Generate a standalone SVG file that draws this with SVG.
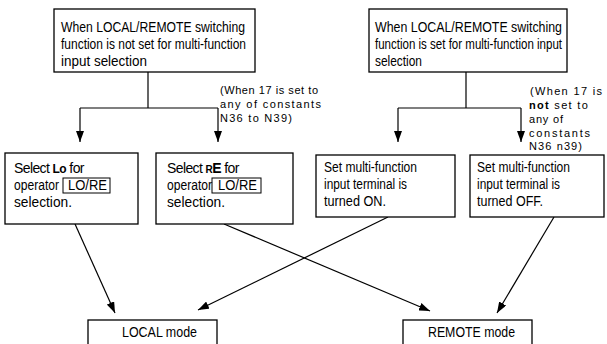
<svg xmlns="http://www.w3.org/2000/svg" width="607" height="344" viewBox="0 0 607 344">
<defs>
<style>
.box{fill:#fff;stroke:#000;stroke-width:1.3}
.t{font-family:"Liberation Sans",Arial,sans-serif;font-size:14px;fill:#000}
.h{font-family:"Liberation Sans",Arial,sans-serif;font-size:14px;fill:#000}
.a{font-family:"Liberation Sans",Arial,sans-serif;font-size:11px;fill:#000}
.c{fill:none;stroke:#000;stroke-width:1.2}
.lb{fill:none;stroke:#000;stroke-width:1}
.k{font-weight:bold}
.n{letter-spacing:-0.6px}
</style>
<marker id="ah" viewBox="0 0 11 8" refX="11" refY="4" markerWidth="11" markerHeight="8" markerUnits="userSpaceOnUse" orient="auto">
<path d="M0,0 L11,4 L0,8 Z" fill="#000"/>
</marker>
</defs>
<rect width="607" height="344" fill="#fff"/>
<g id="connectors">
<path class="c" d="M148,72 V108 M80,108 H218"/>
<path class="c" d="M80,108 V142" marker-end="url(#ah)"/>
<path class="c" d="M218,108 V142" marker-end="url(#ah)"/>
<path class="c" d="M466,72 V108 M398,108 H521"/>
<path class="c" d="M398,108 V142" marker-end="url(#ah)"/>
<path class="c" d="M521,108 V142" marker-end="url(#ah)"/>
<path class="c" d="M75,224 L115,313" marker-end="url(#ah)"/>
<path class="c" d="M224,224 L430,311" marker-end="url(#ah)"/>
<path class="c" d="M388,217 L198,310" marker-end="url(#ah)"/>
<path class="c" d="M554,217 L497,313" marker-end="url(#ah)"/>
</g>
<g id="top-left">
<rect class="box" x="54" y="9" width="201" height="63"/>
<text class="h" x="61" y="32" textLength="184" lengthAdjust="spacingAndGlyphs">When LOCAL/REMOTE switching</text>
<text class="h" x="61" y="49" textLength="185" lengthAdjust="spacingAndGlyphs">function is not set for multi-function</text>
<text class="h" x="61" y="66" textLength="86" lengthAdjust="spacingAndGlyphs">input selection</text>
</g>
<g id="top-right">
<rect class="box" x="369" y="9" width="198" height="63"/>
<text class="h" x="375" y="32" textLength="187" lengthAdjust="spacingAndGlyphs">When LOCAL/REMOTE switching</text>
<text class="h" x="375" y="49" textLength="187" lengthAdjust="spacingAndGlyphs">function is set for multi-function input</text>
<text class="h" x="375" y="66" textLength="47" lengthAdjust="spacingAndGlyphs">selection</text>
</g>
<g id="note-left">
<text class="a" x="220" y="94" textLength="98" lengthAdjust="spacing">(When 17 is set to</text>
<text class="a" x="220" y="108" textLength="101" lengthAdjust="spacing">any of constants</text>
<text class="a" x="220" y="122" textLength="72" lengthAdjust="spacing">N36 to N39)</text>
</g>
<g id="note-right">
<text class="a" x="530" y="95" textLength="72" lengthAdjust="spacing">(When 17 is</text>
<text class="a" x="529" y="109" style="letter-spacing:1.3px"><tspan class="k">not</tspan> set to</text>
<text class="a" x="529" y="123" textLength="34" lengthAdjust="spacing">any of</text>
<text class="a" x="529" y="137" textLength="61" lengthAdjust="spacing">constants</text>
<text class="a" x="529" y="150" textLength="53" lengthAdjust="spacing">N36 n39)</text>
</g>
<g id="select-lo">
<rect class="box" x="5" y="153" width="133" height="71"/>
<text class="t n" x="14" y="173">Select <tspan class="k" font-size="12">Lo</tspan> for</text>
<text class="t" x="14" y="190" textLength="45" lengthAdjust="spacingAndGlyphs">operator</text>
<rect class="lb" x="63" y="178" width="47" height="15"/>
<text class="t" x="68" y="190" textLength="39" lengthAdjust="spacingAndGlyphs">LO/RE</text>
<text class="t" x="14" y="207" textLength="58" lengthAdjust="spacingAndGlyphs">selection.</text>
</g>
<g id="select-re">
<rect class="box" x="156" y="153" width="137" height="71"/>
<text class="t n" x="167" y="173">Select <tspan class="k" font-variant="small-caps">r</tspan><tspan class="k">E</tspan> for</text>
<text class="t" x="167" y="190" textLength="45" lengthAdjust="spacingAndGlyphs">operator</text>
<rect class="lb" x="212" y="178" width="49" height="15"/>
<text class="t" x="218" y="190" textLength="39" lengthAdjust="spacingAndGlyphs">LO/RE</text>
<text class="t" x="167" y="207" textLength="58" lengthAdjust="spacingAndGlyphs">selection.</text>
</g>
<g id="terminal-on">
<rect class="box" x="316" y="155" width="139" height="62"/>
<text class="t" x="324" y="172" textLength="93" lengthAdjust="spacingAndGlyphs">Set multi-function</text>
<text class="t" x="324" y="189" textLength="83" lengthAdjust="spacingAndGlyphs">input terminal is</text>
<text class="t" x="324" y="206" textLength="62" lengthAdjust="spacingAndGlyphs">turned  ON.</text>
</g>
<g id="terminal-off">
<rect class="box" x="470" y="155" width="134" height="62"/>
<text class="t" x="477" y="172" textLength="93" lengthAdjust="spacingAndGlyphs">Set multi-function</text>
<text class="t" x="477" y="189" textLength="83" lengthAdjust="spacingAndGlyphs">input terminal is</text>
<text class="t" x="477" y="206" textLength="66" lengthAdjust="spacingAndGlyphs">turned  OFF.</text>
</g>
<g id="local-mode">
<rect class="box" x="88" y="320" width="129" height="30"/>
<text class="t" x="122" y="337" textLength="75" lengthAdjust="spacingAndGlyphs">LOCAL mode</text>
</g>
<g id="remote-mode">
<rect class="box" x="403" y="320" width="129" height="30"/>
<text class="t" x="428" y="337" textLength="87" lengthAdjust="spacingAndGlyphs">REMOTE mode</text>
</g>
</svg>
